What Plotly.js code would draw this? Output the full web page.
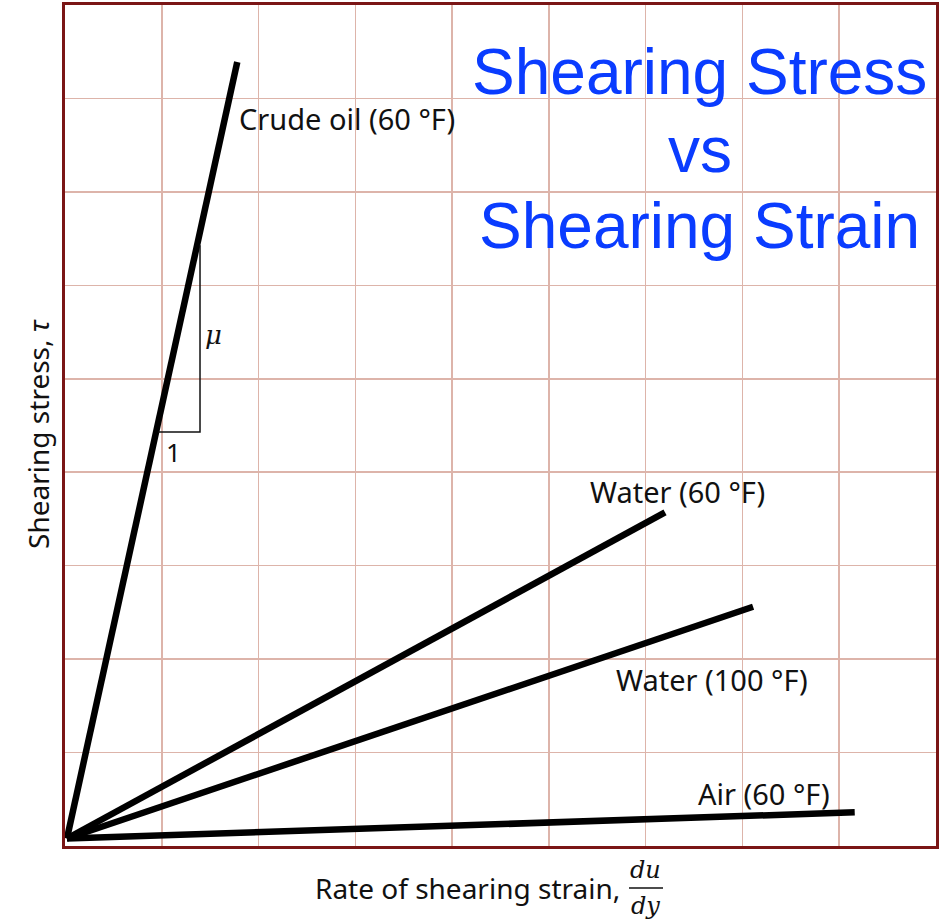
<!DOCTYPE html>
<html>
<head>
<meta charset="utf-8">
<script src="https://cdn.plot.ly/plotly-3.0.1.min.js"></script>
<style>
  html, body { margin: 0; padding: 0; background: #ffffff; }
  #chart { width: 945px; height: 921px; }
</style>
</head>
<body>
<div id="chart"></div>
<script>
// Line series: each fluid runs from the origin to its end point
const seriesNames = ["Crude oil (60 °F)", "Water (60 °F)", "Water (100 °F)", "Air (60 °F)"];
const startX = [0.02, 0.02, 0.02, 0.02];
const startY = [0.08, 0.08, 0.08, 0.08];
const endX = [1.78, 6.20, 7.11, 8.16];
const endY = [8.39, 3.57, 2.56, 0.36];

// Slope triangle (μ over 1) on the crude oil line
const triX = [0.96, 1.395, 1.395];
const triY = [4.43, 4.43, 6.43];

// Text
const titleLines = ["Shearing Stress", "vs", "Shearing Strain"];
const xTitle = "Rate of shearing strain,";
const yTitle = "Shearing stress, <i>τ</i>";

const traces = seriesNames.map((n, i) => ({
  type: "scatter", mode: "lines", name: n,
  x: [startX[i], endX[i]], y: [startY[i], endY[i]],
  line: { color: "#000000", width: 6.5 },
  hoverinfo: "name"
}));
traces.push({
  type: "scatter", mode: "lines", name: "slope",
  x: triX, y: triY,
  line: { color: "#111111", width: 1.5 },
  hoverinfo: "skip"
});

const labelFont = { family: "Noto Sans, Open Sans, sans-serif", size: 29, color: "#111111" };
const labelPos = [[2.91, 7.79], [6.33, 3.79], [6.69, 1.78], [7.22, 0.567]];

const annotations = seriesNames.map((n, i) => ({
  text: n, x: labelPos[i][0], y: labelPos[i][1], xref: "x", yref: "y",
  showarrow: false, xanchor: "center", yanchor: "middle", font: labelFont
}));

annotations.push(
  { text: "<i>μ</i>", x: 1.53, y: 5.47, xref: "x", yref: "y", showarrow: false,
    font: { family: "DejaVu Serif, serif", size: 26, color: "#111111" } },
  { text: "1", x: 1.126, y: 4.22, xref: "x", yref: "y", showarrow: false,
    font: { family: "Noto Sans, sans-serif", size: 26, color: "#111111" } }
);

const titleY = [72, 150, 226];
titleLines.forEach((t, i) => annotations.push({
  text: t, x: 0.729, y: (846 - titleY[i]) / 841, xref: "paper", yref: "paper",
  showarrow: false, xanchor: "center", yanchor: "middle",
  font: { family: "Liberation Sans, Arial, sans-serif", size: 64, color: "#0a3cff" }
}));

const axFont = { family: "Noto Sans, Open Sans, sans-serif", size: 28, color: "#111111" };
annotations.push(
  { text: xTitle, x: 0.639, y: -0.05, xref: "paper", yref: "paper", showarrow: false,
    xanchor: "right", yanchor: "middle", font: axFont },
  { text: "<i>du</i>", x: 0.666, y: -0.029, xref: "paper", yref: "paper", showarrow: false,
    xanchor: "center", yanchor: "middle",
    font: { family: "DejaVu Serif, serif", size: 24, color: "#111111" } },
  { text: "<i>dy</i>", x: 0.666, y: -0.071, xref: "paper", yref: "paper", showarrow: false,
    xanchor: "center", yanchor: "middle",
    font: { family: "DejaVu Serif, serif", size: 24, color: "#111111" } },
  { text: yTitle, x: -0.031, y: 0.49, xref: "paper", yref: "paper", showarrow: false,
    textangle: -90, xanchor: "center", yanchor: "middle", font: axFont }
);

const axisCommon = {
  range: [0, 9], dtick: 1, tick0: 0, showticklabels: false, ticks: "",
  showgrid: true, gridcolor: "#ddb4aa", gridwidth: 1.5,
  zeroline: false, showline: true, mirror: true, linecolor: "#7a1515", linewidth: 3,
  fixedrange: true
};

const layout = {
  width: 945, height: 921,
  margin: { l: 65, r: 9, t: 5, b: 75 },
  paper_bgcolor: "#ffffff", plot_bgcolor: "#ffffff",
  showlegend: false,
  xaxis: Object.assign({}, axisCommon),
  yaxis: Object.assign({}, axisCommon),
  annotations: annotations,
  shapes: [
    { type: "line", xref: "paper", yref: "paper", x0: (629 - 65) / 871, x1: (663 - 65) / 871,
      y0: -0.050, y1: -0.050, line: { color: "#111111", width: 1.5 } }
  ]
};

Plotly.newPlot("chart", traces, layout, { displayModeBar: false, staticPlot: true });
</script>
</body>
</html>
